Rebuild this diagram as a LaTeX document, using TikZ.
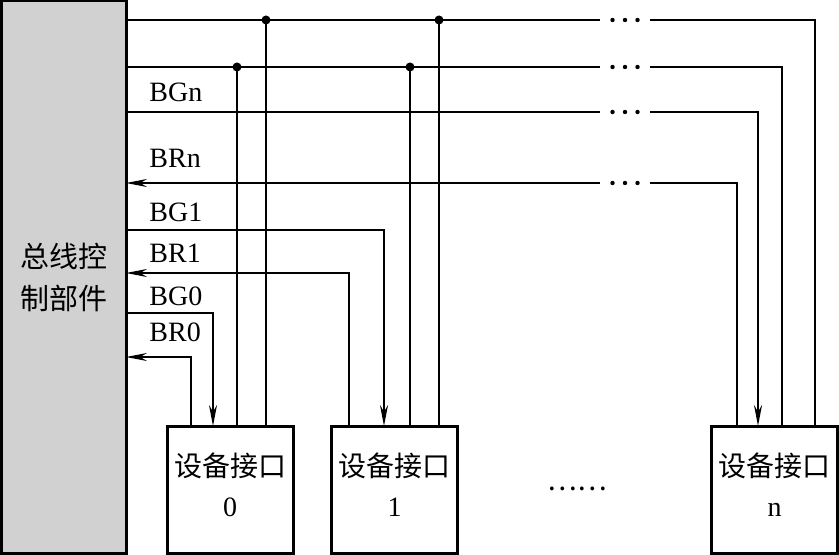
\documentclass[tikz,border=0pt]{standalone}
\usepackage{fontspec}
\setmainfont{Liberation Serif}
\newfontfamily\cjk{Noto Sans CJK SC}
\usetikzlibrary{arrows.meta}

\begin{document}
\begin{tikzpicture}[x=0.5pt,y=-0.5pt,
    line/.style={line width=1pt},
    sig/.style={line width=1pt,-{Stealth[length=10.5pt,width=4pt]}},
    box/.style={draw,line width=1.5pt,inner sep=0pt,align=center},
    devbox/.style={box,minimum width=63pt,minimum height=63.5pt},
    devtxt/.style={align=center,inner sep=0pt,font=\fontsize{14}{20}\selectfont},
    lbl/.style={anchor=base west,inner sep=0pt,font=\fontsize{14}{16}\selectfont}]
  \useasboundingbox (0,0) rectangle (839,555);
  % bus control unit and device interfaces
  \node[box,fill=black!18,minimum width=62.4pt,minimum height=276pt,
    font=\fontsize{14.5}{21}\selectfont\cjk] (ctrl) at (64,277) {总线控\\制部件};
  \node[devbox] (dev0) at (230,489.5) {};
  \node[devbox] (dev1) at (394.5,489.5) {};
  \node[devbox] (devn) at (774.5,489.5) {};
  \node[devtxt] (txt0) at (230,484.5) {{\cjk 设备接口}\\0};
  \node[devtxt] (txt1) at (394.5,484.5) {{\cjk 设备接口}\\1};
  \node[devtxt] (txtn) at (774.5,484.5) {{\cjk 设备接口}\\n};
  \node (gap) at (577,489) {\cjk\fontsize{14}{16}\selectfont ……};
  % levels on the control unit
  \coordinate (bus1) at (126,20);
  \coordinate (bus2) at (126,67);
  \coordinate (bgn) at (126,112);
  \coordinate (brn) at (126,183);
  \coordinate (bg1) at (126,230);
  \coordinate (br1) at (126,273);
  \coordinate (bg0) at (126,313);
  \coordinate (br0) at (126,357);
  % taps on the device interfaces
  \coordinate (t0a) at (191,426);
  \coordinate (t0b) at (213,426);
  \coordinate (t0c) at (237,426);
  \coordinate (t0d) at (266,426);
  \coordinate (t1a) at (349,426);
  \coordinate (t1b) at (384,426);
  \coordinate (t1c) at (410,426);
  \coordinate (t1d) at (439,426);
  \coordinate (tna) at (737,426);
  \coordinate (tnb) at (758,426);
  \coordinate (tnc) at (782,426);
  \coordinate (tnd) at (815,426);
  % shared lines
  \draw[line] (bus1) -| (tnd);
  \draw[line] (bus2) -| (tnc);
  \foreach \t in {t0d,t1d} {
    \draw[line] (\t) -- (\t |- bus1);
    \fill (\t |- bus1) circle (4.5);
  }
  \foreach \t in {t0c,t1c} {
    \draw[line] (\t) -- (\t |- bus2);
    \fill (\t |- bus2) circle (4.5);
  }
  % grant and request lines
  \draw[sig] (bgn) -| (tnb);
  \draw[sig] (tna) |- (brn);
  \draw[sig] (bg1) -| (t1b);
  \draw[sig] (t1a) |- (br1);
  \draw[sig] (bg0) -| (t0b);
  \draw[sig] (t0a) |- (br0);
  % gaps with dots
  \foreach \y in {20,67,112,183} {
    \fill[white] (600,\y-5) rectangle (650,\y+5);
    \foreach \x in {612.5,625,637.5}
      \fill (\x,\y) circle (2.2);
  }
  % labels
  \node[lbl] (lbgn) at (149,102) {BGn};
  \node[lbl] (lbrn) at (149,168) {BRn};
  \node[lbl] (lbg1) at (149,222) {BG1};
  \node[lbl] (lbr1) at (149,263) {BR1};
  \node[lbl] (lbg0) at (149,306) {BG0};
  \node[lbl] (lbr0) at (149,342) {BR0};
\end{tikzpicture}
\end{document}
